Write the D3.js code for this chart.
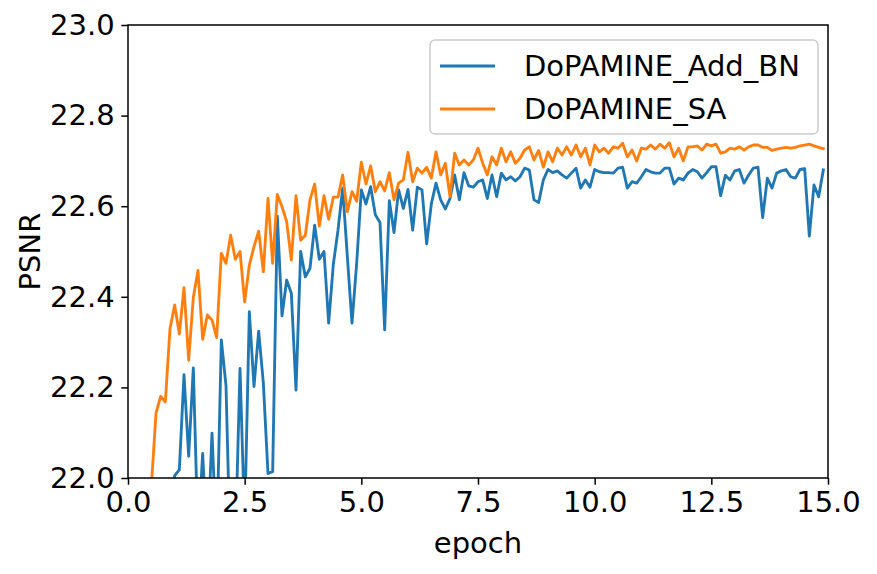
<!DOCTYPE html>
<html>
<head>
<meta charset="utf-8">
<script src="https://cdn.jsdelivr.net/npm/d3@7"></script>
<style>
  html, body { margin: 0; padding: 0; background: #fff; }
  svg { display: block; font-family: "DejaVu Sans", sans-serif; }
</style>
</head>
<body>
<svg id="chart" width="877" height="574"></svg>
<script>
// ---- data ----
const seriesNames = ["DoPAMINE_Add_BN", "DoPAMINE_SA"];
const seriesColors = ["#1f77b4", "#ff7f0e"];
const epochStep = 0.1;
const addBN = [
  21.5, 21.55, 21.6, 21.65, 21.7, 21.75, 21.8, 21.85, 21.95, 22.005,
  22.018, 22.228, 22.048, 22.243, 21.87, 22.054, 21.85, 22.099, 21.85, 22.305,
  22.204, 21.8, 21.85, 22.242, 21.9, 22.367, 22.202, 22.324, 22.21, 22.010,
  22.014, 22.578, 22.358, 22.437, 22.408, 22.194, 22.500, 22.444, 22.463, 22.558,
  22.483, 22.500, 22.342, 22.472, 22.547, 22.640, 22.489, 22.342, 22.474, 22.636,
  22.605, 22.643, 22.581, 22.564, 22.327, 22.612, 22.542, 22.636, 22.595, 22.637,
  22.547, 22.642, 22.636, 22.517, 22.605, 22.651, 22.614, 22.594, 22.617, 22.669,
  22.614, 22.674, 22.645, 22.642, 22.654, 22.658, 22.617, 22.669, 22.621, 22.673,
  22.658, 22.665, 22.656, 22.665, 22.684, 22.680, 22.614, 22.608, 22.658, 22.681,
  22.674, 22.678, 22.669, 22.662, 22.673, 22.684, 22.640, 22.658, 22.642, 22.681,
  22.676, 22.674, 22.674, 22.673, 22.684, 22.686, 22.640, 22.654, 22.651, 22.665,
  22.681, 22.676, 22.673, 22.673, 22.684, 22.684, 22.649, 22.662, 22.658, 22.673,
  22.681, 22.676, 22.662, 22.674, 22.687, 22.687, 22.623, 22.668, 22.658, 22.678,
  22.681, 22.651, 22.669, 22.684, 22.686, 22.575, 22.662, 22.640, 22.673, 22.678,
  22.681, 22.665, 22.662, 22.681, 22.683, 22.534, 22.647, 22.621, 22.680
];
const sa = [
  21.5, 21.6, 21.7, 21.8, 21.98, 22.143, 22.180, 22.168, 22.330, 22.382,
  22.318, 22.420, 22.260, 22.399, 22.458, 22.306, 22.360, 22.349, 22.310, 22.496,
  22.474, 22.536, 22.483, 22.500, 22.389, 22.470, 22.511, 22.545, 22.455, 22.617,
  22.474, 22.626, 22.599, 22.566, 22.481, 22.623, 22.525, 22.536, 22.614, 22.649,
  22.556, 22.623, 22.571, 22.620, 22.620, 22.669, 22.588, 22.632, 22.611, 22.697,
  22.649, 22.689, 22.632, 22.654, 22.634, 22.674, 22.614, 22.651, 22.658, 22.719,
  22.654, 22.684, 22.673, 22.686, 22.662, 22.720, 22.669, 22.695, 22.621, 22.717,
  22.691, 22.702, 22.691, 22.702, 22.728, 22.695, 22.669, 22.709, 22.691, 22.728,
  22.698, 22.720, 22.695, 22.706, 22.724, 22.731, 22.702, 22.723, 22.686, 22.720,
  22.698, 22.728, 22.713, 22.731, 22.713, 22.735, 22.709, 22.728, 22.691, 22.735,
  22.720, 22.728, 22.717, 22.731, 22.728, 22.739, 22.709, 22.724, 22.700, 22.728,
  22.726, 22.735, 22.726, 22.737, 22.728, 22.740, 22.709, 22.728, 22.700, 22.731,
  22.731, 22.733, 22.724, 22.737, 22.733, 22.737, 22.717, 22.720, 22.728, 22.726,
  22.731, 22.724, 22.731, 22.735, 22.735, 22.730, 22.730, 22.723, 22.726, 22.728,
  22.730, 22.728, 22.730, 22.733, 22.735, 22.737, 22.733, 22.730, 22.727
];
const xTicks = [0, 2.5, 5, 7.5, 10, 12.5, 15];
const yTicks = [22.0, 22.2, 22.4, 22.6, 22.8, 23.0];
const xLabel = "epoch";
const yLabel = "PSNR";

// ---- layout ----
const svg = d3.select("#chart");
const M = { left: 128, right: 828, top: 25, bottom: 478 };
const FS = 29;

const x = d3.scaleLinear().domain([0, 15]).range([M.left, M.right]);
const y = d3.scaleLinear().domain([22, 23]).range([M.bottom, M.top]);

svg.append("defs").append("clipPath").attr("id", "clip")
  .append("rect")
  .attr("x", M.left).attr("y", M.top)
  .attr("width", M.right - M.left).attr("height", M.bottom - M.top);

const series = [addBN, sa].map((vals, k) => ({
  name: seriesNames[k],
  color: seriesColors[k],
  pts: vals.map((v, i) => ({ e: epochStep * (i + 1), v }))
}));

const line = d3.line().x(d => x(d.e)).y(d => y(d.v));

const plot = svg.append("g").attr("clip-path", "url(#clip)");
series.forEach(s => {
  plot.append("path")
    .datum(s.pts)
    .attr("fill", "none")
    .attr("stroke", s.color)
    .attr("stroke-width", 2.85)
    .attr("stroke-linejoin", "round")
    .attr("stroke-linecap", "square")
    .attr("d", line);
});

// axes
const xAxis = svg.append("g")
  .attr("transform", `translate(0,${M.bottom})`)
  .call(d3.axisBottom(x).tickValues(xTicks).tickFormat(d3.format(".1f"))
    .tickSize(6.7).tickPadding(6.7));
const yAxis = svg.append("g")
  .attr("transform", `translate(${M.left},0)`)
  .call(d3.axisLeft(y).tickValues(yTicks).tickFormat(d3.format(".1f"))
    .tickSize(6.7).tickPadding(6.7));
[xAxis, yAxis].forEach(g => {
  g.select(".domain").remove();
  g.selectAll(".tick line").attr("stroke", "#000").attr("stroke-width", 1.5);
  g.selectAll(".tick text").attr("fill", "#000")
    .style("font-size", FS + "px").style("font-family", "DejaVu Sans");
});

// spines
svg.append("rect")
  .attr("x", M.left).attr("y", M.top)
  .attr("width", M.right - M.left).attr("height", M.bottom - M.top)
  .attr("fill", "none").attr("stroke", "#000").attr("stroke-width", 1.5);

// labels
svg.append("text")
  .attr("x", (M.left + M.right) / 2).attr("y", 553)
  .attr("text-anchor", "middle")
  .style("font-size", FS + "px")
  .text(xLabel);
svg.append("text")
  .attr("transform", `translate(40,${(M.top + M.bottom) / 2}) rotate(-90)`)
  .attr("text-anchor", "middle")
  .style("font-size", FS + "px")
  .text(yLabel);

// legend
const lg = svg.append("g");
lg.append("rect")
  .attr("x", 430).attr("y", 40).attr("width", 388).attr("height", 94)
  .attr("rx", 5).attr("ry", 5)
  .attr("fill", "#fff").attr("fill-opacity", 0.8)
  .attr("stroke", "#cccccc").attr("stroke-width", 1.5);
series.forEach((s, k) => {
  const yy = 66 + k * 43;
  lg.append("line")
    .attr("x1", 440).attr("x2", 495).attr("y1", yy).attr("y2", yy)
    .attr("stroke", s.color).attr("stroke-width", 2.85);
  lg.append("text")
    .attr("x", 524).attr("y", yy).attr("dy", "0.36em")
    .style("font-size", FS + "px")
    .text(s.name);
});
</script>
</body>
</html>
